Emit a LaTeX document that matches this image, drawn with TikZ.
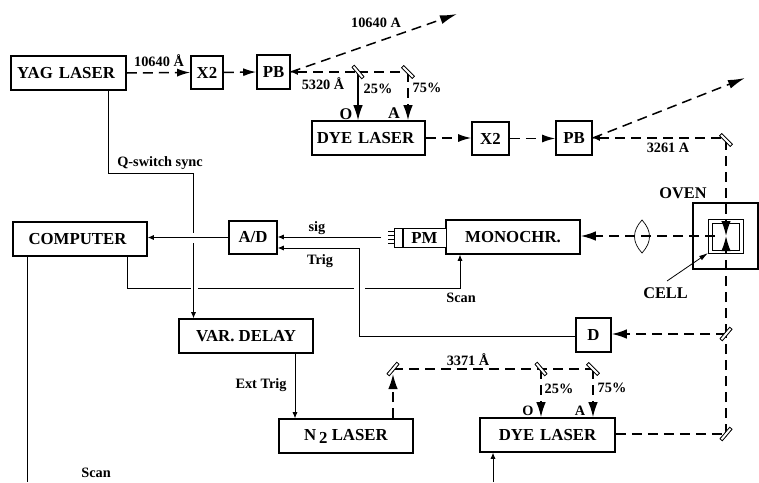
\documentclass[tikz,border=0pt]{standalone}
\usepackage{fontspec}
\setmainfont{Liberation Serif}
\usetikzlibrary{arrows.meta,positioning}
\tikzset{
  labbox/.style={
    draw=black,
    line width=1.6pt,
    align=center,
    font=\fontsize{16.8}{18}\selectfont\bfseries,
    inner sep=0pt,
    fill=white
  },
  pmbox/.style={draw=black, line width=0.7pt, inner sep=0pt, fill=white},
  beam/.style={draw=black, line width=1.5pt, dash pattern=on 10pt off 6pt},
  beamarrow/.style={beam, -{Latex[length=13pt,width=8pt]}},
  beamout/.style={beam, -{Latex[length=17pt,width=9pt]}},
  beamdown/.style={beam, -{Latex[length=15pt,width=9.5pt]}},
  beamback/.style={beam, {Latex[length=7pt,width=6pt]}-},
  solidarrow/.style={draw=black, line width=1.2pt, -{Latex[length=15pt,width=9.5pt]}},
  sigline/.style={draw=black, line width=0.7pt},
  sigarrow/.style={sigline, -{Latex[length=6pt,width=5pt]}},
  mirror/.style={draw=black, line width=0.7pt, fill=white, minimum width=15pt, minimum height=3pt, inner sep=0pt},
  beamlabel/.style={font=\fontsize{14.3}{16}\selectfont\bfseries, inner sep=0pt},
  biglabel/.style={font=\fontsize{16.3}{18}\selectfont\bfseries, inner sep=0pt}
}
\begin{document}
\begin{tikzpicture}[x=1pt,y=-1pt]
  \useasboundingbox (0,0) rectangle (759,482);

  % boxes
  \node[labbox, minimum width=115pt, minimum height=34pt] (yag) at (68.5,73) {YAG\hspace{6pt}LASER\hspace{5pt}};
  \node[labbox, minimum width=32pt, minimum height=33pt] (xa) at (207,72.5) {X2};
  \node[labbox, minimum width=33pt, minimum height=34pt] (pba) at (273.5,72) {PB};
  \node[labbox, minimum width=113pt, minimum height=34pt] (dyea) at (368.5,138) {DYE\hspace{6pt}LASER\hspace{6pt}};
  \node[labbox, minimum width=37pt, minimum height=33pt] (xb) at (490.5,138.5) {X2};
  \node[labbox, minimum width=36pt, minimum height=34pt] (pbb) at (574,138) {PB};
  \node[labbox, minimum width=134pt, minimum height=34pt] (comp) at (80,239) {COMPUTER\hspace{5pt}};
  \node[labbox, minimum width=48pt, minimum height=33pt] (adc) at (253,237.5) {A/D};
  \node[labbox, minimum width=134pt, minimum height=34pt] (mono) at (513,237) {MONOCHR.};
  \node[labbox, minimum width=134pt, minimum height=34pt] (delay) at (246,336) {VAR. DELAY};
  \node[labbox, minimum width=134pt, minimum height=34pt] (ntwo) at (346,436) {N\,\raisebox{-3pt}{2} LASER};
  \node[labbox, minimum width=135pt, minimum height=34pt] (dyeb) at (547.5,435) {DYE\hspace{6pt}LASER};
  \node[labbox, minimum width=35pt, minimum height=34pt] (det) at (593.5,335) {D};

  % photomultiplier
  \node[pmbox, minimum width=43pt, minimum height=19pt, font=\fontsize{16.8}{18}\selectfont\bfseries] (pm) at (424.5,237.5) {PM};
  \node[pmbox, minimum width=8pt, minimum height=19pt, left=0pt of pm] (pmtail) {};
  \foreach \y in {231,235,239,243}
    \draw[sigline] (388,\y) -- (395,\y);

  % oven and cell
  \node[labbox, minimum width=65pt, minimum height=66pt] (oven) at (725.5,236) {};
  \node[pmbox, minimum width=35pt, minimum height=34pt] (cell) at (725.5,236) {};
  \node[pmbox, minimum width=27pt, minimum height=27pt] (cellin) at (725.5,236.5) {};
  \node[biglabel] (ovenlab) at (683,193) {OVEN};
  \node[biglabel] (celllab) at (665.5,293) {CELL};

  % mirrors
  \node[mirror, rotate=-50] (ma) at (358,72) {};
  \node[mirror, rotate=-45] (mb) at (408,72) {};
  \node[mirror, rotate=-45] (mc) at (726,140) {};
  \node[mirror, rotate=50] (md) at (726,334) {};
  \node[mirror, rotate=50] (me) at (726,434) {};
  \node[mirror, rotate=50] (mf) at (393,369) {};
  \node[mirror, rotate=-50] (mg) at (541,369) {};
  \node[mirror, rotate=-45] (mh) at (593,369) {};

  % free ends of the beams
  \coordinate (beamtopa) at (457,14);
  \coordinate (beamtopb) at (745,78);
  \coordinate (focus) at (726,236);
  \coordinate (cellmid) at (715,236);
  \coordinate (ntwoup) at (393,374);

  % laser beams
  \draw[beamarrow] (yag.east) -- (xa.west);
  \draw[beamarrow] (xa.east) -- (pba.west);
  \draw[beamback] (pba.east) -- (ma.center);
  \draw[beam] (ma.center) -- (mb.center);
  \draw[beamout] (pba.east) -- (beamtopa);
  \draw[beamarrow] (dyea.east) -- (dyea.east -| xb.west);
  \draw[beamarrow] (xb.east) -- (xb.east -| pbb.west);
  \draw[beamout] (pbb.east) -- (beamtopb);
  \draw[beamback] (pbb.east) -- (pbb.east -| mc.center);
  \draw[beamdown] (mc.center) -- (focus);
  \draw[beam] (me.center) -- (md.center);
  \draw[beamdown] (md.center) -- (focus);
  \draw[beam] (dyeb.east |- me.center) -- (me.center);
  \draw[beamdown] (md.center) -- (md.center -| det.east);
  \draw[beam] (mf.center) -- (mh.center);
  \draw[beamdown] (ntwo.north -| mf.center) -- (ntwoup);
  \draw[beamdown] (mb.center) -- (mb.center |- dyea.north);
  \draw[beamdown] (mg.center) -- (mg.center |- dyeb.north);
  \draw[beamdown] (mh.center) -- (mh.center |- dyeb.north);
  \draw[beamdown] (cellmid) -- (cellmid -| mono.east);
  \draw[solidarrow] (ma.center) -- (ma.center |- dyea.north);

  % mirrors again, so that the beams stop at them
  \foreach \m/\r in {ma/-50,mb/-45,mc/-45,md/50,me/50,mf/50,mg/-50,mh/-45}
    \node[mirror, rotate=\r] at (\m) {};

  % lens
  \draw[line width=0.7pt] (642,220) .. controls (632,231) and (632,242) .. (642,253)
    .. controls (652,242) and (652,231) .. cycle;

  % electronics
  \coordinate (qa) at (108,173);
  \coordinate (qb) at (193.5,173);
  \coordinate (qc) at (193.5,233);
  \coordinate (qd) at (193.5,243);
  \draw[sigline] (qa |- yag.south) -- (qa) -- (qb) -- (qc);
  \draw[sigarrow] (qd) -- (qd |- delay.north);
  \draw[sigarrow] (adc.west) -- (comp.east |- adc.west);
  \coordinate (sigend) at (381,237);
  \draw[sigarrow] (sigend) -- (sigend -| adc.east);
  \coordinate (trigA) at (359,336);
  \coordinate (trigB) at (359,248);
  \draw[sigarrow] (det.west |- trigA) -- (trigA) -- (trigB) -- (trigB -| adc.east);
  \coordinate (scanA) at (127,288);
  \coordinate (scanB) at (191,288);
  \coordinate (scanC) at (198,288);
  \coordinate (scanD) at (354,288);
  \coordinate (scanE) at (365,288);
  \coordinate (scanF) at (460,288);
  \draw[sigline] (scanA |- comp.south) -- (scanA) -- (scanB);
  \draw[sigline] (scanC) -- (scanD);
  \draw[sigarrow] (scanE) -- (scanF) -- (scanF |- mono.south);
  \coordinate (extrig) at (295,353);
  \draw[sigarrow] (extrig) -- (extrig |- ntwo.north);
  \coordinate (lowA) at (27,482);
  \coordinate (lowB) at (493,482);
  \draw[sigline] (lowA |- comp.south) -- (lowA);
  \draw[sigarrow] (lowB) -- (lowB |- dyeb.south);
  \coordinate (cellend) at (708,253);
  \draw[draw=black, line width=0.8pt, -{Latex[length=9pt,width=5pt]}] (667,281) -- (cellend);

  % labels
  \node[beamlabel] (la) at (159,61) {10640 Å};
  \node[beamlabel] (lb) at (376,23) {10640 A};
  \node[beamlabel] (lc) at (323,84) {5320 Å};
  \node[beamlabel] (ld) at (378,89) {25\%};
  \node[beamlabel] (le) at (427,88) {75\%};
  \node[biglabel] (lf) at (346,114) {O};
  \node[biglabel] (lg) at (394,113) {A};
  \node[beamlabel] (lh) at (668,148) {3261 A};
  \node[beamlabel] (li) at (160,163) {Q-switch sync};
  \node[beamlabel] (lj) at (317,228) {sig};
  \node[beamlabel] (lk) at (320,261) {Trig};
  \node[beamlabel] (ll) at (461,298) {Scan};
  \node[beamlabel] (lm) at (96,473) {Scan};
  \node[beamlabel] (ln) at (261,385) {Ext Trig};
  \node[beamlabel] (lo) at (468,360) {3371 Å};
  \node[beamlabel] (lp) at (559,389) {25\%};
  \node[beamlabel] (lq) at (612,388) {75\%};
  \node[beamlabel] (lr) at (528,411) {O};
  \node[beamlabel] (ls) at (580,411) {A};
\end{tikzpicture}
\end{document}
